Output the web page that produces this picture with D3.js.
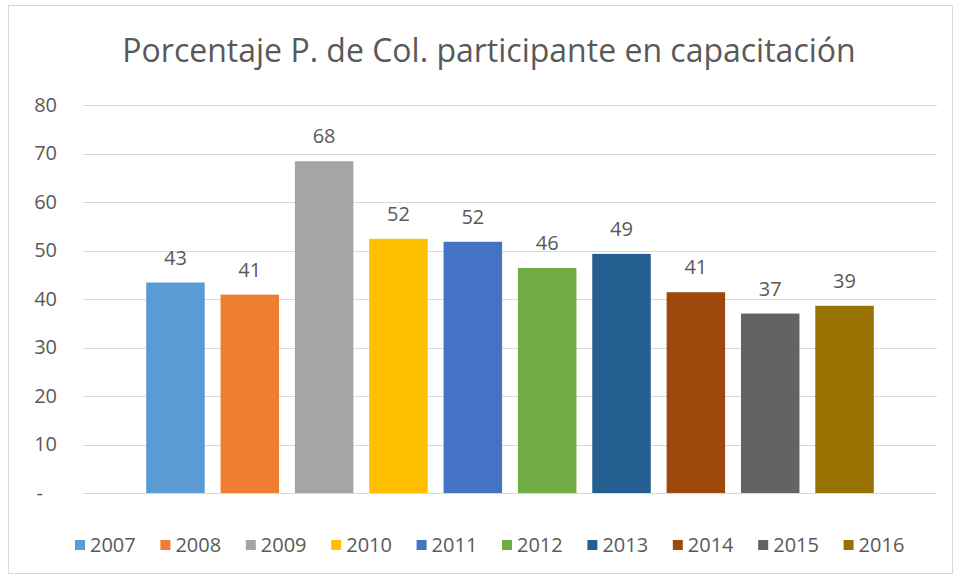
<!DOCTYPE html>
<html>
<head>
<meta charset="utf-8">
<script src="https://cdn.jsdelivr.net/npm/d3@7"></script>
<style>
body{margin:0;background:#fff}
svg{display:block}
text{font-family:"Open Sans","DejaVu Sans",sans-serif}
</style>
</head>
<body>
<script>
const title="Porcentaje P. de Col. participante en capacitación"
const years=["2007","2008","2009","2010","2011","2012","2013","2014","2015","2016"]
const values=[43.4,40.9,68.4,52.4,51.8,46.4,49.3,41.4,37.0,38.6]
const colors=["#5B9BD5","#ED7D31","#A5A5A5","#FFC000","#4472C4","#70AD47","#255E91","#9E480E","#636363","#997300"]
const yticks=[0,10,20,30,40,50,60,70,80]

const W=956,H=580
const plot={left:83,right:937,top:105,bottom:493}

const svg=d3.select("body").append("svg")
	.attr("width",W)
	.attr("height",H)

svg.append("rect")
	.attr("x",8.5).attr("y",5.5)
	.attr("width",944).attr("height",568)
	.attr("fill","#fff")
	.attr("stroke","#d9d9d9")

const x=d3.scaleBand()
	.domain(years)
	.range([plot.left,plot.right])
	.paddingInner(0.213)
	.paddingOuter(0.85)

const y=d3.scaleLinear()
	.domain([0,80])
	.range([plot.bottom,plot.top])

// gridlines
svg.append("g").selectAll("line").data(yticks).enter().append("line")
	.attr("x1",plot.left).attr("x2",plot.right)
	.attr("y1",d=>Math.round(y(d))+0.5)
	.attr("y2",d=>Math.round(y(d))+0.5)
	.attr("stroke","#d9d9d9")
	.attr("stroke-width",1)

// y labels, axis line hidden
const yaxis=svg.append("g")
	.attr("transform","translate("+(plot.left-26)+",0)")
	.call(d3.axisLeft(y).tickValues(yticks).tickSize(0).tickPadding(0)
		.tickFormat(d=>d==0?"-":d))
yaxis.select(".domain").remove()
yaxis.selectAll("text")
	.attr("font-size",20)
	.attr("fill","#595959")
	.attr("font-family","'Open Sans','DejaVu Sans',sans-serif")
	.attr("dx",d=>d==0?-14:0)

// bars
svg.append("g").selectAll("rect").data(values).enter().append("rect")
	.attr("x",(d,i)=>x(years[i]))
	.attr("y",d=>y(d))
	.attr("width",x.bandwidth())
	.attr("height",d=>y(0)-y(d))
	.attr("fill",(d,i)=>colors[i])

// value labels
svg.append("g").selectAll("text").data(values).enter().append("text")
	.attr("x",(d,i)=>x(years[i])+x.bandwidth()/2)
	.attr("y",d=>y(d)-18)
	.attr("text-anchor","middle")
	.attr("font-size",20)
	.attr("fill","#595959")
	.text(d=>Math.round(d))

// title
svg.append("text")
	.attr("x",489)
	.attr("y",62)
	.attr("text-anchor","middle")
	.attr("font-size",32)
	.attr("fill","#595959")
	.text(title)

// legend
const lx=d3.scaleBand()
	.domain(years)
	.range([75,75+85.4*10])
const legend=svg.append("g").selectAll("g").data(years).enter().append("g")
	.attr("transform",d=>"translate("+lx(d)+",545)")
legend.append("rect")
	.attr("x",0).attr("y",-5)
	.attr("width",10).attr("height",10)
	.attr("fill",(d,i)=>colors[i])
legend.append("text")
	.attr("x",15)
	.attr("y",7)
	.attr("font-size",20)
	.attr("fill","#595959")
	.text(d=>d)
</script>
</body>
</html>
